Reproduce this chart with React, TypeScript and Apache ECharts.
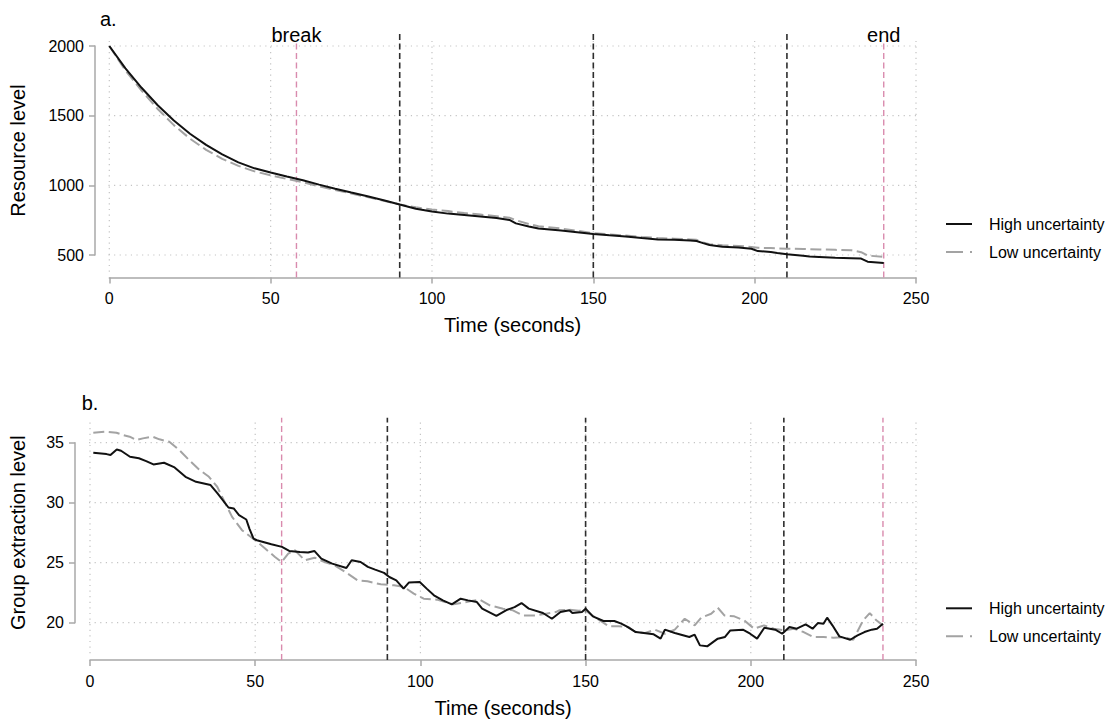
import React, { useEffect, useRef } from "react";
import * as echarts from "echarts";

// ---------- data ----------
const TIME_TICKS = [0, 50, 100, 150, 200, 250];
const RESOURCE_TICKS = [500, 1000, 1500, 2000];
const EXTRACTION_TICKS = [20, 25, 30, 35];
const PHASE_TIMES = [90, 150, 210];
const EVENT_TIMES = [58, 240];
const EVENT_LABELS = ["break", "end"];
const SERIES_NAMES = ["High uncertainty", "Low uncertainty"];
const PANEL_TAGS = ["a.", "b."];
const AXIS_TITLES = ["Resource level", "Group extraction level"];
const X_TITLE = "Time (seconds)";

const resourceHigh: [number, number][] = [
  [0, 2000], [5, 1840], [10, 1700], [15, 1575], [20, 1465], [25, 1370], [30, 1290],
  [35, 1222], [40, 1165], [45, 1122], [50, 1092], [55, 1063], [60, 1037], [65, 1005],
  [70, 975], [75, 948], [80, 922], [85, 893], [90, 862], [95, 832], [100, 812],
  [105, 797], [110, 787], [115, 777], [120, 765], [124, 752], [126, 727], [130, 705],
  [133, 690], [140, 675], [145, 663], [150, 650], [155, 641], [160, 633], [165, 622],
  [170, 612], [175, 609], [180, 604], [182, 600], [184, 585], [186, 572], [190, 560],
  [195, 553], [199, 545], [201, 528], [205, 522], [207, 515], [210, 505], [215, 495],
  [217, 489], [220, 486], [225, 480], [230, 477], [233, 474], [235, 452], [240, 443],
];

const resourceLow: [number, number][] = [
  [0, 2000], [5, 1825], [10, 1680], [15, 1548], [20, 1432], [25, 1335], [30, 1255],
  [35, 1190], [40, 1140], [45, 1100], [50, 1072], [55, 1046], [60, 1022], [65, 993],
  [70, 966], [75, 941], [80, 916], [85, 890], [90, 862], [95, 842], [100, 826],
  [105, 815], [110, 801], [115, 790], [120, 778], [124, 768], [126, 750], [130, 722],
  [133, 706], [140, 690], [145, 674], [150, 656], [155, 648], [160, 640], [165, 630],
  [170, 622], [175, 617], [180, 612], [182, 609], [184, 590], [186, 578], [190, 570],
  [195, 565], [199, 558], [201, 552], [205, 550], [207, 548], [210, 545], [215, 543],
  [217, 542], [220, 540], [225, 537], [230, 534], [233, 520], [235, 496], [240, 486],
];

const extractionHigh: [number, number][] = [
  [1, 34.17], [5, 34.05], [6.2, 33.97], [8.1, 34.44], [9.4, 34.33], [12.1, 33.83],
  [14.8, 33.7], [17, 33.47], [19.2, 33.19], [22.4, 33.33], [25.6, 32.94], [28.9, 32.16],
  [32.1, 31.74], [36.5, 31.47], [38.6, 30.77], [41.9, 29.6], [43.5, 29.52], [45.1, 28.96],
  [47.3, 28.6], [48.3, 27.8], [49.5, 27.0], [50.5, 26.87], [54.9, 26.54], [58.1, 26.32],
  [60.3, 25.98], [63.5, 25.9], [66, 25.85], [67.9, 25.98], [70, 25.34], [73.3, 24.92],
  [77.6, 24.56], [79.2, 25.2], [81.9, 25.06], [84.1, 24.65], [86.3, 24.42], [89, 24.15],
  [90.6, 23.81], [92.7, 23.53], [94.9, 22.84], [96.5, 23.34], [99.8, 23.39], [101.9, 22.84],
  [104.1, 22.28], [106.8, 21.86], [109.5, 21.53], [112.2, 22.0], [114.4, 21.86], [117.1, 21.72],
  [118.7, 21.17], [123, 20.56], [126.3, 21.08], [128.5, 21.3], [130.6, 21.64], [132.8, 21.17],
  [137.1, 20.81], [139.8, 20.33], [142.4, 20.89], [145.1, 21.03], [146, 20.8], [148.9, 20.89],
  [150, 21.17], [152.2, 20.53], [155.4, 20.14], [158.7, 20.14], [160.8, 19.92], [162.4, 19.7],
  [165.2, 19.22], [170.6, 19.03], [172.7, 18.67], [174, 19.42], [177, 19.14], [181.4, 18.81],
  [183, 19.0], [184.6, 18.11], [186.8, 18.03], [190, 18.67], [192.2, 18.81], [193.8, 19.36],
  [197.6, 19.42], [199.8, 19.08], [201.9, 18.67], [204.1, 19.58], [207.4, 19.42], [209.5, 19.08],
  [211.7, 19.64], [213.9, 19.5], [216.6, 19.86], [218.7, 19.5], [220.3, 19.97], [222, 19.92],
  [223.1, 20.42], [224.7, 19.78], [226.8, 18.86], [230.1, 18.58], [232.3, 18.94], [234.4, 19.22],
  [236.6, 19.42], [238.2, 19.5], [240, 19.92],
];

const extractionLow: [number, number][] = [
  [1, 35.83], [5, 35.92], [8, 35.83], [10, 35.64], [12, 35.5], [14, 35.22], [16, 35.36],
  [19, 35.5], [21, 35.28], [24, 35.08], [27, 34.39], [30, 33.55], [33, 32.77], [36, 32.16],
  [38.5, 31.33], [41, 29.93], [43, 28.82], [46, 27.71], [50, 26.87], [53, 26.18], [56, 25.48],
  [58, 25.06], [60, 25.76], [62, 26.04], [65, 25.2], [68, 25.42], [71, 25.06], [74, 24.79],
  [78, 24.09], [81, 23.53], [84, 23.45], [88, 23.2], [92, 23.12], [95, 22.98], [98, 22.42],
  [101, 22.0], [105, 21.92], [110, 21.53], [115, 21.78], [118, 21.92], [121, 21.45], [125, 21.17],
  [128, 21.03], [131, 20.61], [135, 20.61], [138, 20.75], [141, 20.89], [142, 21.03], [145, 21.08],
  [148, 21.0], [150, 21.03], [152, 20.61], [155, 20.06], [157, 19.7], [160, 19.7], [163, 19.64],
  [165, 19.22], [168, 19.14], [171, 19.42], [174, 19.08], [177, 19.42], [180, 20.33], [183, 19.78],
  [185, 20.42], [188, 20.75], [190, 21.25], [192, 20.61], [195, 20.53], [198, 20.19], [201, 19.5],
  [204, 19.78], [207, 19.5], [210, 19.36], [213, 19.5], [216, 19.22], [219, 18.8], [222, 18.8],
  [225, 18.75], [228, 18.8], [231, 18.58], [234, 20.2], [236, 20.8], [238, 20.2], [240, 19.78],
];

// ---------- layout / style ----------
const FONT = '"Liberation Sans", Arial, Helvetica, sans-serif';
const AXIS_GRAY = "#a8a8a8";
const GRID_DOT = "#c4c4c4";
const PINK = "#d98bae";
const PHASE = "#2e2e2e";
const HIGH_COLOR = "#111111";
const LOW_COLOR = "#a3a3a3";

const PANELS = [
  {
    grid: { left: 109.3, top: 46, width: 806.7, height: 209 },
    yMin: 500, yMax: 2000, yInterval: 500, yTicks: RESOURCE_TICKS,
    yOffset: 14.3, xOffset: 22.5, yNameGap: 67, xNameGap: 37.5,
    gridX: [-2, 254], gridY: [380, 2055], phaseY: [338, 2091], eventY: [338, 2029],
    high: resourceHigh, low: resourceLow, legendTop: 216, tagPos: [100, 19], labelY: 35.4,
  },
  {
    grid: { left: 90, top: 442.7, width: 826, height: 180 },
    yMin: 20, yMax: 35, yInterval: 5, yTicks: EXTRACTION_TICKS,
    yOffset: 15, xOffset: 37.3, yNameGap: 47, xNameGap: 38,
    gridX: [-2, 254], gridY: [17.45, 36.75], phaseY: [16.89, 37.08], eventY: [16.89, 37.08],
    high: extractionHigh, low: extractionLow, legendTop: 600.3, tagPos: [81.7, 403], labelY: null,
  },
];

function segment(gi: number, pts: number[][], lineStyle: any, z: number) {
  return {
    type: "line",
    xAxisIndex: gi,
    yAxisIndex: gi,
    data: pts,
    symbol: "none",
    showSymbol: false,
    clip: false,
    silent: true,
    z,
    lineStyle,
    emphasis: { disabled: true },
    tooltip: { show: false },
  };
}

const plainNumber = (v: number) => String(v);

function buildOption() {
  const grids: any[] = [];
  const xAxes: any[] = [];
  const yAxes: any[] = [];
  const series: any[] = [];
  const legends: any[] = [];

  PANELS.forEach((p, gi) => {
    grids.push({ ...p.grid, containLabel: false });
    const axisCommon = {
      axisLine: { show: true, onZero: false, lineStyle: { color: AXIS_GRAY, width: 1.5 } },
      axisTick: { show: true, length: 6, lineStyle: { color: AXIS_GRAY, width: 1.5 } },
      splitLine: { show: false },
      nameLocation: "middle",
      nameTextStyle: { fontSize: 20, color: "#000", fontFamily: FONT },
    };
    xAxes.push({
      ...axisCommon,
      gridIndex: gi,
      type: "value",
      min: TIME_TICKS[0],
      max: TIME_TICKS[TIME_TICKS.length - 1],
      interval: TIME_TICKS[1] - TIME_TICKS[0],
      offset: p.xOffset,
      name: X_TITLE,
      nameGap: p.xNameGap,
      axisLabel: { fontSize: 16, color: "#000", margin: 13, fontFamily: FONT, formatter: plainNumber },
    });
    yAxes.push({
      ...axisCommon,
      gridIndex: gi,
      type: "value",
      min: p.yMin,
      max: p.yMax,
      interval: p.yInterval,
      offset: p.yOffset,
      name: AXIS_TITLES[gi],
      nameGap: p.yNameGap,
      axisLabel: { fontSize: 16, color: "#000", margin: 11, fontFamily: FONT, formatter: plainNumber },
    });

    const dotted = { color: GRID_DOT, width: 1.2, type: [1.2, 4.4] };
    TIME_TICKS.forEach((t) => {
      series.push(segment(gi, [[t, p.gridY[0]], [t, p.gridY[1]]], dotted, 1));
    });
    p.yTicks.forEach((v) => {
      series.push(segment(gi, [[p.gridX[0], v], [p.gridX[1], v]], dotted, 1));
    });
    PHASE_TIMES.forEach((t) => {
      series.push(
        segment(gi, [[t, p.phaseY[0]], [t, p.phaseY[1]]], { color: PHASE, width: 1.6, type: [6, 3.5] }, 2)
      );
    });
    EVENT_TIMES.forEach((t) => {
      series.push(
        segment(gi, [[t, p.eventY[0]], [t, p.eventY[1]]], { color: PINK, width: 1.4, type: [6, 3.5] }, 2)
      );
    });

    series.push({
      name: SERIES_NAMES[1],
      type: "line",
      xAxisIndex: gi,
      yAxisIndex: gi,
      data: p.low,
      symbol: "none",
      showSymbol: false,
      clip: false,
      z: 3,
      color: LOW_COLOR,
      lineStyle: { color: LOW_COLOR, width: 2, type: [11, 4.5] },
      emphasis: { disabled: true },
    });
    series.push({
      name: SERIES_NAMES[0],
      type: "line",
      xAxisIndex: gi,
      yAxisIndex: gi,
      data: p.high,
      symbol: "none",
      showSymbol: false,
      clip: false,
      z: 4,
      color: HIGH_COLOR,
      lineStyle: { color: HIGH_COLOR, width: 2 },
      emphasis: { disabled: true },
    });

    legends.push({
      orient: "vertical",
      left: 945,
      top: p.legendTop,
      padding: 0,
      itemWidth: 26,
      itemHeight: 16,
      itemGap: 12,
      selectedMode: false,
      itemStyle: { color: "transparent", borderWidth: 0, opacity: 0 },
      data: [
        { name: SERIES_NAMES[0], itemStyle: { color: "transparent", borderWidth: 0, opacity: 0 } },
        {
          name: SERIES_NAMES[1],
          itemStyle: { color: "transparent", borderWidth: 0, opacity: 0 },
          lineStyle: { type: [17, 7] },
        },
      ],
      textStyle: {
        fontSize: 16,
        color: "#000",
        fontFamily: FONT,
        lineHeight: 16,
        padding: [0, 0, 0, 12],
      },
    });
  });

  return {
    animation: false,
    backgroundColor: "#ffffff",
    textStyle: { fontFamily: FONT },
    grid: grids,
    xAxis: xAxes,
    yAxis: yAxes,
    legend: legends,
    series,
  };
}

export default function App() {
  const ref = useRef<HTMLDivElement>(null);

  useEffect(() => {
    document.body.style.margin = "0";
    if (!ref.current) return;
    const chart = echarts.init(ref.current, undefined, { renderer: "svg" });
    chart.setOption(buildOption() as any);

    const graphics: any[] = [];
    PANELS.forEach((p, gi) => {
      graphics.push({
        type: "text",
        x: p.tagPos[0],
        y: p.tagPos[1],
        style: {
          text: PANEL_TAGS[gi],
          fontSize: 20,
          fontFamily: FONT,
          fill: "#000",
          textAlign: "left",
          textVerticalAlign: "middle",
        },
      });
      if (p.labelY !== null) {
        EVENT_TIMES.forEach((t, i) => {
          const pt = chart.convertToPixel({ xAxisIndex: gi, yAxisIndex: gi } as any, [t, p.yMax]) as number[];
          graphics.push({
            type: "text",
            x: pt[0],
            y: p.labelY as number,
            style: {
              text: EVENT_LABELS[i],
              fontSize: 20,
              fontFamily: FONT,
              fill: "#000",
              textAlign: "center",
              textVerticalAlign: "middle",
            },
          });
        });
      }
    });
    chart.setOption({ graphic: graphics });

    return () => chart.dispose();
  }, []);

  return (
    <div
      ref={ref}
      style={{ position: "absolute", left: 0, top: 0, width: 1111, height: 719 }}
    />
  );
}
